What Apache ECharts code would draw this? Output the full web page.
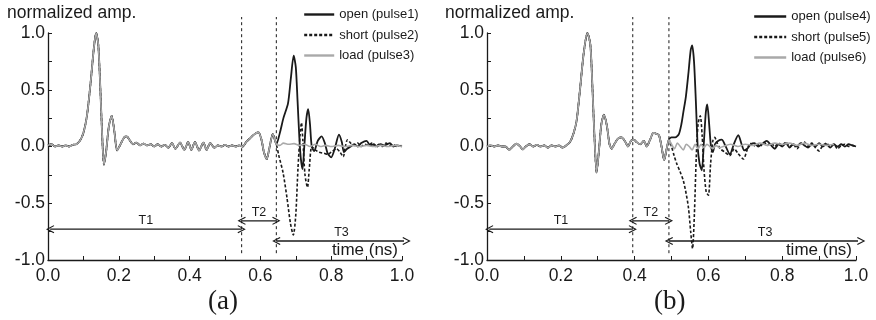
<!DOCTYPE html>
<html>
<head>
<meta charset="utf-8">
<script src="https://cdn.jsdelivr.net/npm/echarts@6/dist/echarts.min.js"></script>
<style>
  html, body { margin: 0; padding: 0; background: #fff; }
  #chart { width: 876px; height: 320px; }
</style>
</head>
<body>
<div id="chart"></div>
<script>
// --- data (time in ns, normalized amplitude) ---

// panel (a): incident part, shared by all three pulses
var commonA = [[0,0.01],[0.01,0.02],[0.02,0.0],[0.03,0.01],[0.04,0.0],[0.05,0.01],[0.06,0.0],[0.07,0.015],[0.08,0.02],
  [0.09,0.05],[0.1,0.12],[0.11,0.27],[0.12,0.55],[0.13,0.88],[0.136,1.0],[0.142,0.9],[0.148,0.5],[0.153,0.1],[0.158,-0.16],
  [0.164,-0.05],[0.172,0.18],[0.18,0.27],[0.188,0.12],[0.195,-0.035],[0.205,0.02],[0.215,0.08],[0.222,0.09],[0.232,0.05],
  [0.24,0.02],[0.25,0.035],[0.26,0.01],[0.27,0.025],[0.28,0.01],[0.29,0.02],[0.3,0.0],[0.31,0.02],[0.32,0.0],[0.33,0.015],
  [0.34,-0.01],[0.35,0.03],[0.36,-0.02],[0.373,0.035],[0.385,-0.03],[0.396,0.04],[0.405,-0.03],[0.415,0.04],[0.427,-0.035],
  [0.439,0.035],[0.448,-0.03],[0.458,0.03],[0.47,-0.01],[0.48,0.01],[0.49,0.0],[0.5,0.015],[0.51,0.0],[0.52,0.01],[0.53,0.0],
  [0.54,0.01],[0.55,0.0],[0.56,0.04],[0.57,0.07],[0.58,0.1],[0.594,0.127],[0.603,0.06],[0.61,-0.05],[0.618,-0.11],
  [0.625,-0.02],[0.635,0.11],[0.645,0.02]];
var openTailA = [[0.655,0.12],[0.665,0.25],[0.678,0.38],[0.686,0.6],[0.694,0.8],[0.7,0.7],[0.705,0.4],[0.71,0.08],
  [0.714,-0.1],[0.719,-0.2],[0.724,0.0],[0.73,0.25],[0.735,0.33],[0.74,0.2],[0.745,0.0],[0.752,-0.04],[0.762,0.05],
  [0.773,0.09],[0.782,0.03],[0.79,-0.06],[0.8,-0.095],[0.81,-0.02],[0.822,0.105],[0.83,0.04],[0.836,-0.05],[0.845,-0.02],
  [0.855,0.0],[0.865,0.02],[0.875,0.0],[0.885,0.03],[0.9,0.05],[0.91,0.01],[0.92,0.02],[0.93,0.0],[0.94,0.02],[0.95,0.01],
  [0.966,0.03],[0.975,0.0],[0.985,0.01],[1.0,0.0]];
var shortTailA = [[0.652,-0.08],[0.664,-0.23],[0.675,-0.45],[0.685,-0.68],[0.693,-0.78],[0.7,-0.6],[0.706,-0.2],[0.712,0.1],
  [0.716,0.21],[0.72,0.05],[0.726,-0.25],[0.733,-0.36],[0.738,-0.2],[0.745,0.0],[0.755,-0.03],[0.765,-0.05],[0.78,-0.06],
  [0.79,-0.07],[0.8,-0.05],[0.815,-0.02],[0.825,-0.05],[0.834,-0.09],[0.84,0.0],[0.846,0.06],[0.855,0.03],[0.865,0.01],
  [0.875,0.03],[0.885,0.0],[0.895,0.02],[0.905,0.01],[0.915,0.03],[0.925,0.0],[0.935,0.02],[0.945,0.0],[0.955,0.03],
  [0.965,0.01],[0.975,0.02],[0.985,0.0],[1.0,0.01]];
var loadTailA = [[0.655,0.01],[0.665,0.03],[0.68,0.02],[0.695,0.025],[0.71,0.01],[0.725,0.02],[0.74,0.0],[0.755,0.02],
  [0.77,0.0],[0.785,0.01],[0.8,0.0],[0.82,0.01],[0.84,0.0],[0.86,0.01],[0.88,0.0],[0.9,0.01],[0.92,0.0],[0.94,0.01],
  [0.96,0.0],[0.98,0.01],[1.0,0.0]];

// panel (b)
var commonB = [[0,0.0],[0.01,0.01],[0.02,0.0],[0.03,0.01],[0.04,0.0],[0.05,0.0],[0.06,-0.03],[0.07,0.0],[0.08,0.025],
  [0.09,0.0],[0.097,-0.025],[0.105,0.0],[0.115,0.02],[0.125,0.0],[0.135,0.015],[0.145,0.0],[0.155,0.01],[0.165,-0.01],
  [0.175,0.01],[0.185,0.0],[0.195,0.01],[0.205,-0.01],[0.215,0.01],[0.225,0.04],[0.235,0.12],[0.243,0.23],[0.252,0.5],
  [0.262,0.82],[0.272,1.0],[0.28,0.9],[0.286,0.5],[0.291,0.1],[0.297,-0.23],[0.303,-0.05],[0.31,0.2],[0.317,0.28],
  [0.325,0.18],[0.332,0.02],[0.338,-0.02],[0.345,0.02],[0.355,0.07],[0.365,0.08],[0.375,0.04],[0.382,0.0],[0.39,0.05],
  [0.398,0.06],[0.405,0.04],[0.415,0.02],[0.425,0.05],[0.433,0.0],[0.442,0.06],[0.451,0.12],[0.46,0.11],[0.466,0.1],
  [0.473,0.0],[0.48,-0.12],[0.487,-0.02],[0.493,0.06]];
var openTailB = [[0.5,0.08],[0.51,0.08],[0.52,0.11],[0.527,0.2],[0.532,0.3],[0.539,0.44],[0.546,0.65],[0.552,0.85],
  [0.556,0.89],[0.561,0.75],[0.566,0.4],[0.571,0.0],[0.576,-0.15],[0.582,-0.21],[0.588,0.05],[0.593,0.3],[0.597,0.37],
  [0.602,0.2],[0.607,0.0],[0.612,-0.05],[0.618,0.02],[0.627,0.05],[0.636,0.06],[0.647,0.0],[0.658,-0.07],[0.67,0.03],
  [0.681,0.1],[0.69,0.02],[0.697,-0.035],[0.705,-0.02],[0.715,0.02],[0.725,0.03],[0.735,0.0],[0.745,0.02],[0.758,0.05],
  [0.77,0.01],[0.78,-0.02],[0.79,0.02],[0.8,0.0],[0.81,0.03],[0.82,-0.01],[0.83,0.02],[0.84,0.0],[0.85,0.03],[0.86,0.01],
  [0.87,-0.01],[0.88,0.02],[0.89,0.0],[0.9,0.03],[0.91,0.0],[0.92,0.02],[0.93,-0.01],[0.94,0.02],[0.95,0.0],[0.96,0.02],
  [0.97,0.0],[0.98,0.02],[0.99,0.01],[1.0,0.0]];
var shortTailB = [[0.5,0.0],[0.507,-0.08],[0.514,-0.15],[0.523,-0.22],[0.532,-0.3],[0.54,-0.42],[0.546,-0.54],[0.552,-0.75],
  [0.557,-0.9],[0.562,-0.6],[0.567,-0.1],[0.572,0.2],[0.578,0.27],[0.583,0.1],[0.588,-0.2],[0.594,-0.4],[0.6,-0.43],
  [0.606,-0.15],[0.612,0.05],[0.617,0.08],[0.624,0.03],[0.632,-0.02],[0.645,-0.05],[0.658,-0.08],[0.67,-0.02],[0.68,-0.06],
  [0.695,-0.11],[0.705,-0.03],[0.713,0.03],[0.722,0.0],[0.73,0.03],[0.74,0.0],[0.75,0.04],[0.76,0.01],[0.77,0.03],
  [0.78,0.0],[0.79,0.03],[0.8,0.01],[0.81,0.04],[0.82,0.0],[0.83,0.02],[0.84,-0.02],[0.85,0.02],[0.86,0.04],[0.87,0.0],
  [0.88,0.03],[0.89,-0.01],[0.9,-0.04],[0.91,0.01],[0.92,0.03],[0.93,0.0],[0.94,0.02],[0.95,-0.02],[0.96,0.01],[0.97,0.02],
  [0.98,0.0],[0.99,0.01],[1.0,0.0]];
var loadTailB = [[0.5,0.02],[0.508,-0.02],[0.516,0.03],[0.524,0.0],[0.532,-0.03],[0.54,0.02],[0.548,0.0],[0.556,-0.03],
  [0.564,0.02],[0.572,-0.02],[0.58,0.02],[0.588,-0.01],[0.596,0.02],[0.604,0.0],[0.612,-0.02],[0.62,0.01],[0.63,-0.01],
  [0.64,0.0],[0.66,0.02],[0.68,0.0],[0.7,0.02],[0.72,0.01],[0.74,0.03],[0.76,0.01],[0.78,0.03],[0.8,0.02],[0.82,0.03],
  [0.84,0.01],[0.86,0.03],[0.88,0.01],[0.9,0.02],[0.92,0.01],[0.94,0.02]];

var namesA = ['open (pulse1)', 'short (pulse2)', 'load (pulse3)'];
var namesB = ['open (pulse4)', 'short (pulse5)', 'load (pulse6)'];
var boundsA = [0.547, 0.645];   // T1 | T2 | T3 boundaries
var boundsB = [0.395, 0.493];
var spanLabels = ['T1', 'T2', 'T3'];
var xTicks = [0, 0.2, 0.4, 0.6, 0.8, 1.0];
var yTicks = [-1.0, -0.5, 0.0, 0.5, 1.0];

var FONT = 'Liberation Sans, Arial, sans-serif';
var INK = '#1a1a1a';
var GRAY = '#a9a9a9';
var chevron = 'path://M5,0 L10,8.5 L8.8,9.2 L5,2.6 L1.2,9.2 L0,8.5 Z';

var chart = echarts.init(document.getElementById('chart'), null, { renderer: 'canvas' });

function xAxisCfg(gi) {
  return {
    type: 'value', gridIndex: gi, min: xTicks[0], max: xTicks[xTicks.length - 1],
    interval: xTicks[1] - xTicks[0],
    name: 'time (ns)', nameLocation: 'end', nameGap: -4,
    nameTextStyle: { fontFamily: FONT, fontSize: 17, color: INK, align: 'right', verticalAlign: 'bottom', padding: [0, 0, 1, 0] },
    axisLine: { show: true, onZero: false, lineStyle: { color: INK, width: 1.3 } },
    axisTick: { show: true, inside: true, length: 4, lineStyle: { color: INK, width: 1 } },
    minorTick: { show: true, splitNumber: 2, length: 4, lineStyle: { color: INK, width: 1 } },
    axisLabel: { fontFamily: FONT, fontSize: 17.5, color: INK, margin: 7,
      formatter: function (v) { return v.toFixed(1); } },
    splitLine: { show: false }
  };
}
function yAxisCfg(gi) {
  return {
    type: 'value', gridIndex: gi, min: yTicks[0], max: yTicks[yTicks.length - 1],
    interval: yTicks[1] - yTicks[0],
    axisLine: { show: true, onZero: false, lineStyle: { color: INK, width: 1.3 } },
    axisTick: { show: true, inside: true, length: 4, lineStyle: { color: INK, width: 1 } },
    minorTick: { show: true, splitNumber: 2, length: 4, lineStyle: { color: INK, width: 1 } },
    axisLabel: { fontFamily: FONT, fontSize: 17.5, color: INK, margin: 3,
      formatter: function (v) { return v.toFixed(1); } },
    splitLine: { show: false }
  };
}

function pulseSeries(name, gi, common, tail, kind) {
  var ls = { width: 1.8, color: INK, type: 'solid' };
  if (kind === 'short') { ls.type = [3, 2]; ls.width = 1.6; }
  if (kind === 'load') { ls.color = GRAY; ls.width = 1.6; }
  return {
    name: name, type: 'line', xAxisIndex: gi, yAxisIndex: gi,
    data: common.concat(tail), symbol: 'none', smooth: 0.25,
    lineStyle: ls, itemStyle: { color: ls.color }, z: kind === 'load' ? 4 : 3,
    emphasis: { disabled: true }, animation: false
  };
}

// vertical dashed boundary line, drawn past the plot edges like the original
function boundarySeries(gi, t) {
  return {
    type: 'line', xAxisIndex: gi, yAxisIndex: gi, clip: false, symbol: 'none', silent: true,
    animation: false, data: [[t, -0.94], [t, 1.14]],
    lineStyle: { color: INK, width: 1, type: [3, 3] }, z: 2
  };
}

// double-headed arrow spanning [t0, t1] at level y, with its label above
function spanSeries(gi, t0, t1, y, label) {
  return {
    type: 'line', xAxisIndex: gi, yAxisIndex: gi, clip: false, silent: true, animation: false,
    symbolSize: [8, 9], symbolKeepAspect: true,
    data: [
      { value: [t0, y], symbol: chevron, symbolRotate: 90 },
      { value: [t1, y], symbol: chevron, symbolRotate: -90 }
    ],
    itemStyle: { color: INK }, lineStyle: { color: INK, width: 1.4 }, z: 5,
    markPoint: {
      silent: true, animation: false, symbol: 'rect', symbolSize: 0,
      label: { show: true, position: 'top', distance: 2, formatter: '{b}', fontFamily: FONT, fontSize: 12.5, color: INK },
      data: [{ name: label, coord: [(t0 + t1) / 2, y] }]
    }
  };
}

function legendCfg(left, top, names, w) {
  return {
    orient: 'vertical', left: left, top: top, padding: 0, itemGap: 7.5, itemWidth: w, itemHeight: 1,
    selectedMode: false, data: names,
    lineStyle: { width: 2.4 },
    textStyle: { fontFamily: FONT, fontSize: 13, color: INK }
  };
}

var option = {
  backgroundColor: '#fff',
  animation: false,
  title: [
    { text: 'normalized amp.', left: 7, top: 4, padding: 0,
      textStyle: { fontFamily: FONT, fontSize: 17.5, fontWeight: 'normal', color: INK } },
    { text: 'normalized amp.', left: 445, top: 4, padding: 0,
      textStyle: { fontFamily: FONT, fontSize: 17.5, fontWeight: 'normal', color: INK } },
    { text: '(a)', left: 208, top: 288, padding: 0,
      textStyle: { fontFamily: 'Liberation Serif, Times New Roman, serif', fontSize: 27, fontWeight: 'normal', color: INK } },
    { text: '(b)', left: 654, top: 288, padding: 0,
      textStyle: { fontFamily: 'Liberation Serif, Times New Roman, serif', fontSize: 27, fontWeight: 'normal', color: INK } }
  ],
  legend: [legendCfg(303, 8, namesA, 30), legendCfg(753, 10, namesB, 32)],
  grid: [
    { left: 48, top: 33, width: 354, height: 227, outerBoundsMode: 'none' },
    { left: 487, top: 33, width: 369, height: 227, outerBoundsMode: 'none' }
  ],
  xAxis: [xAxisCfg(0), xAxisCfg(1)],
  yAxis: [yAxisCfg(0), yAxisCfg(1)],
  series: [
    pulseSeries(namesA[0], 0, commonA, openTailA, 'open'),
    pulseSeries(namesA[1], 0, commonA, shortTailA, 'short'),
    pulseSeries(namesA[2], 0, commonA, loadTailA, 'load'),
    pulseSeries(namesB[0], 1, commonB, openTailB, 'open'),
    pulseSeries(namesB[1], 1, commonB, shortTailB, 'short'),
    pulseSeries(namesB[2], 1, commonB, loadTailB, 'load'),
    boundarySeries(0, boundsA[0]), boundarySeries(0, boundsA[1]),
    boundarySeries(1, boundsB[0]), boundarySeries(1, boundsB[1]),
    spanSeries(0, 0.006, boundsA[0], -0.728, spanLabels[0]),
    spanSeries(0, boundsA[0], boundsA[1], -0.655, spanLabels[1]),
    spanSeries(0, boundsA[1], 1.013, -0.832, spanLabels[2]),
    spanSeries(1, 0.006, boundsB[0], -0.728, spanLabels[0]),
    spanSeries(1, boundsB[0], boundsB[1], -0.655, spanLabels[1]),
    spanSeries(1, boundsB[1], 1.014, -0.832, spanLabels[2])
  ]
};
chart.setOption(option);
</script>
</body>
</html>
